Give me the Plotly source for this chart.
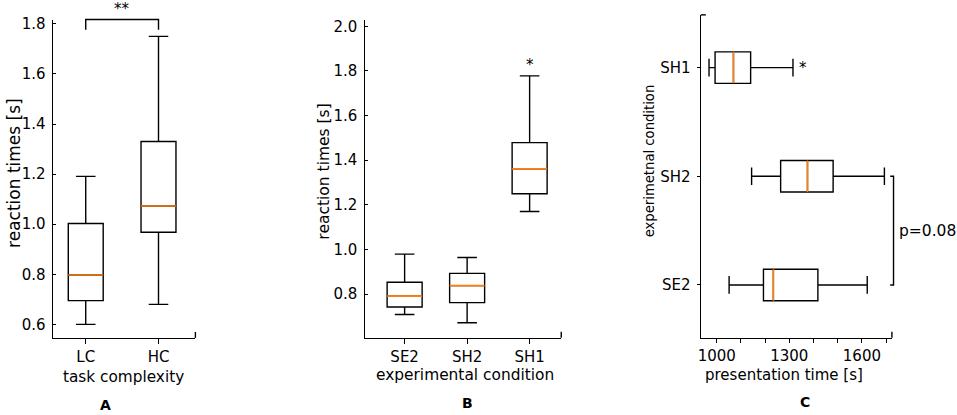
import plotly.graph_objects as go

# ---------------- data ----------------
A_cats = ["LC", "HC"]
A_low = [0.600, 0.680]
A_q1 = [0.695, 0.968]
A_med = [0.797, 1.073]
A_q3 = [1.003, 1.330]
A_high = [1.191, 1.750]

B_cats = ["SE2", "SH2", "SH1"]
B_low = [0.709, 0.672, 1.170]
B_q1 = [0.742, 0.762, 1.250]
B_med = [0.791, 0.838, 1.361]
B_q3 = [0.853, 0.893, 1.479]
B_high = [0.979, 0.964, 1.778]

C_cats = ["SE2", "SH2", "SH1"]
C_low = [1051, 1144, 968]
C_q1 = [1193, 1264, 993]
C_med = [1234, 1375, 1069]
C_q3 = [1418, 1481, 1140]
C_high = [1622, 1693, 1315]

A_yticks = [0.6, 0.8, 1.0, 1.2, 1.4, 1.6, 1.8]
B_yticks = [0.8, 1.0, 1.2, 1.4, 1.6, 1.8, 2.0]
C_xticks = [1000, 1100, 1200, 1300, 1400, 1500, 1600, 1700]
C_xticktext = ["1000", "", "", "1300", "", "", "1600", ""]

# ---------------- style ----------------
W, H = 957, 415
FONT = "DejaVu Sans"
BLACK = "#000000"
ORANGE = "#ff7f0e"
LW = 1.4

A_xrange = [-0.452, 1.507]
A_yrange = [0.546, 1.816]
B_xrange = [-0.641, 2.506]
B_yrange = [0.605, 2.029]
C_xrange = [934, 1724]
C_yrange = [-0.485, 2.485]


def px(x):
    return x / W


def py(y):
    return 1 - y / H


def frac(v, r):
    return (v - r[0]) / (r[1] - r[0])


fig = go.Figure()


def add_boxes(cats, low, q1, med, q3, high, xa, ya, width, horizontal=False):
    common = dict(xaxis=xa, yaxis=ya, width=width, showlegend=False,
                  hoverinfo="skip", boxpoints=False)
    if horizontal:
        common["orientation"] = "h"
        common["y"] = cats
    else:
        common["x"] = cats
    fig.add_trace(go.Box(q1=q1, median=med, q3=q3, lowerfence=low, upperfence=high,
                         line=dict(color=BLACK, width=LW), fillcolor="rgba(255,255,255,0)",
                         whiskerwidth=0.56, **common))
    fig.add_trace(go.Box(q1=med, median=med, q3=med, lowerfence=med, upperfence=med,
                         line=dict(color=ORANGE, width=1.6), fillcolor="rgba(0,0,0,0)",
                         whiskerwidth=0, **common))


add_boxes(A_cats, A_low, A_q1, A_med, A_q3, A_high, "x", "y", 0.48)
add_boxes(B_cats, B_low, B_q1, B_med, B_q3, B_high, "x2", "y2", 0.56)
add_boxes(C_cats, C_low, C_q1, C_med, C_q3, C_high, "x3", "y3", 0.29, horizontal=True)

axis_common = dict(showline=True, linecolor=BLACK, linewidth=LW, showgrid=False,
                   zeroline=False, tickcolor=BLACK, tickwidth=LW,
                   tickfont=dict(family=FONT, size=15, color=BLACK))

fig.update_layout(
    width=W, height=H, margin=dict(l=0, r=0, t=0, b=0),
    paper_bgcolor="white", plot_bgcolor="white", boxmode="overlay",
    font=dict(family=FONT, color=BLACK),
    xaxis=dict(domain=[px(50), px(193)], anchor="y", type="category",
               categoryorder="array", categoryarray=A_cats,
               range=A_xrange, ticks="outside", ticklen=5, **axis_common),
    yaxis=dict(domain=[py(337), py(15)], anchor="x", range=A_yrange,
               tickvals=A_yticks, tickformat=".1f", ticks="inside", ticklen=3,
               ticklabelstandoff=3, **axis_common),
    xaxis2=dict(domain=[px(362.7), px(560)], anchor="y2", type="category",
                categoryorder="array", categoryarray=B_cats,
                range=B_xrange, ticks="outside", ticklen=5, **axis_common),
    yaxis2=dict(domain=[py(336.7), py(15)], anchor="x2", range=B_yrange,
                tickvals=B_yticks, tickformat=".1f", ticks="inside", ticklen=3,
                ticklabelstandoff=3, **axis_common),
    xaxis3=dict(domain=[px(700), px(891.7)], anchor="y3", range=C_xrange,
                tickvals=C_xticks, ticktext=C_xticktext, ticks="outside", ticklen=4,
                **axis_common),
    yaxis3=dict(domain=[py(336.7), py(10)], anchor="x3", type="category",
                categoryorder="array", categoryarray=C_cats,
                range=C_yrange, ticks="outside", ticklen=3,
                ticklabelstandoff=3, **axis_common),
)

# spine end ticks
shape_line = dict(color=BLACK, width=LW)
for xr, yr in [("x", "y"), ("x2", "y2"), ("x3", "y3")]:
    fig.add_shape(type="line", xref=f"{xr} domain", yref=f"{yr} domain",
                  x0=1, x1=1, ysizemode="pixel", yanchor=0, y0=0, y1=6, line=shape_line)
fig.add_shape(type="line", xref="x3 domain", yref="y3 domain", xsizemode="pixel",
              xanchor=0, x0=0, x1=5, y0=1, y1=1, line=shape_line)

# significance bracket panel A (LC vs HC), drawn in axis-domain units
A_br_low, A_br_top = 1.776, 1.817
aL, aR = frac(0, A_xrange), frac(1, A_xrange)
aB, aT = frac(A_br_low, A_yrange), frac(A_br_top, A_yrange)
fig.add_shape(type="path", xref="x domain", yref="y domain",
              path=f"M{aL},{aB} L{aL},{aT} L{aR},{aT} L{aR},{aB}", line=shape_line)

# bracket panel C (SH2 vs SE2)
cS, cV = 0.991, 1.0085
cT, cB = frac(1, C_yrange), frac(0, C_yrange)
fig.add_shape(type="path", xref="x3 domain", yref="y3 domain",
              path=f"M{cS},{cT} L{cV},{cT} L{cV},{cB} L{cS},{cB}", line=shape_line)


def ann(text, x, y, size, angle=0, bold=False, **kw):
    t = f"<b>{text}</b>" if bold else text
    fig.add_annotation(text=t, x=px(x), y=py(y), xref="paper", yref="paper",
                       showarrow=False, textangle=angle, xanchor="center",
                       yanchor="middle", font=dict(family=FONT, size=size, color=BLACK), **kw)


ann("reaction times [s]", 11, 170, 17, angle=-90)
ann("task complexity", 121, 377, 15.3)
ann("A", 103, 405, 14, bold=True)
ann("reaction times [s]", 321.7, 169, 15.5, angle=-90)
ann("experimental condition", 463.7, 375, 15.4)
ann("B", 465.7, 403.3, 14, bold=True)
ann("experimetnal condition", 648.3, 158, 13.2, angle=-90)
ann("presentation time [s]", 783.3, 375, 15)
ann("C", 805, 401.7, 14, bold=True)

# significance marks
fig.add_annotation(text="**", x=(aL + aR) / 2, y=aT, xref="x domain", yref="y domain",
                   showarrow=False, yanchor="bottom", yshift=0,
                   font=dict(family=FONT, size=15, color=BLACK))
fig.add_annotation(text="*", x=B_cats[2], y=B_high[2], xref="x2", yref="y2", showarrow=False,
                   yanchor="bottom", font=dict(family=FONT, size=15, color=BLACK))
fig.add_annotation(text="*", x=C_high[2], y=C_cats[2], xref="x3", yref="y3", showarrow=False,
                   xanchor="left", xshift=4, yanchor="middle",
                   font=dict(family=FONT, size=15, color=BLACK))
fig.add_annotation(text="p=0.08", x=cV, y=(cT + cB) / 2, xref="x3 domain", yref="y3 domain",
                   showarrow=False, xanchor="left", xshift=3, yanchor="middle",
                   font=dict(family=FONT, size=15.5, color=BLACK))

fig.write_html("out.html", config={"displayModeBar": False},
               post_script="document.body.style.margin='0';document.body.style.overflow='hidden';")
